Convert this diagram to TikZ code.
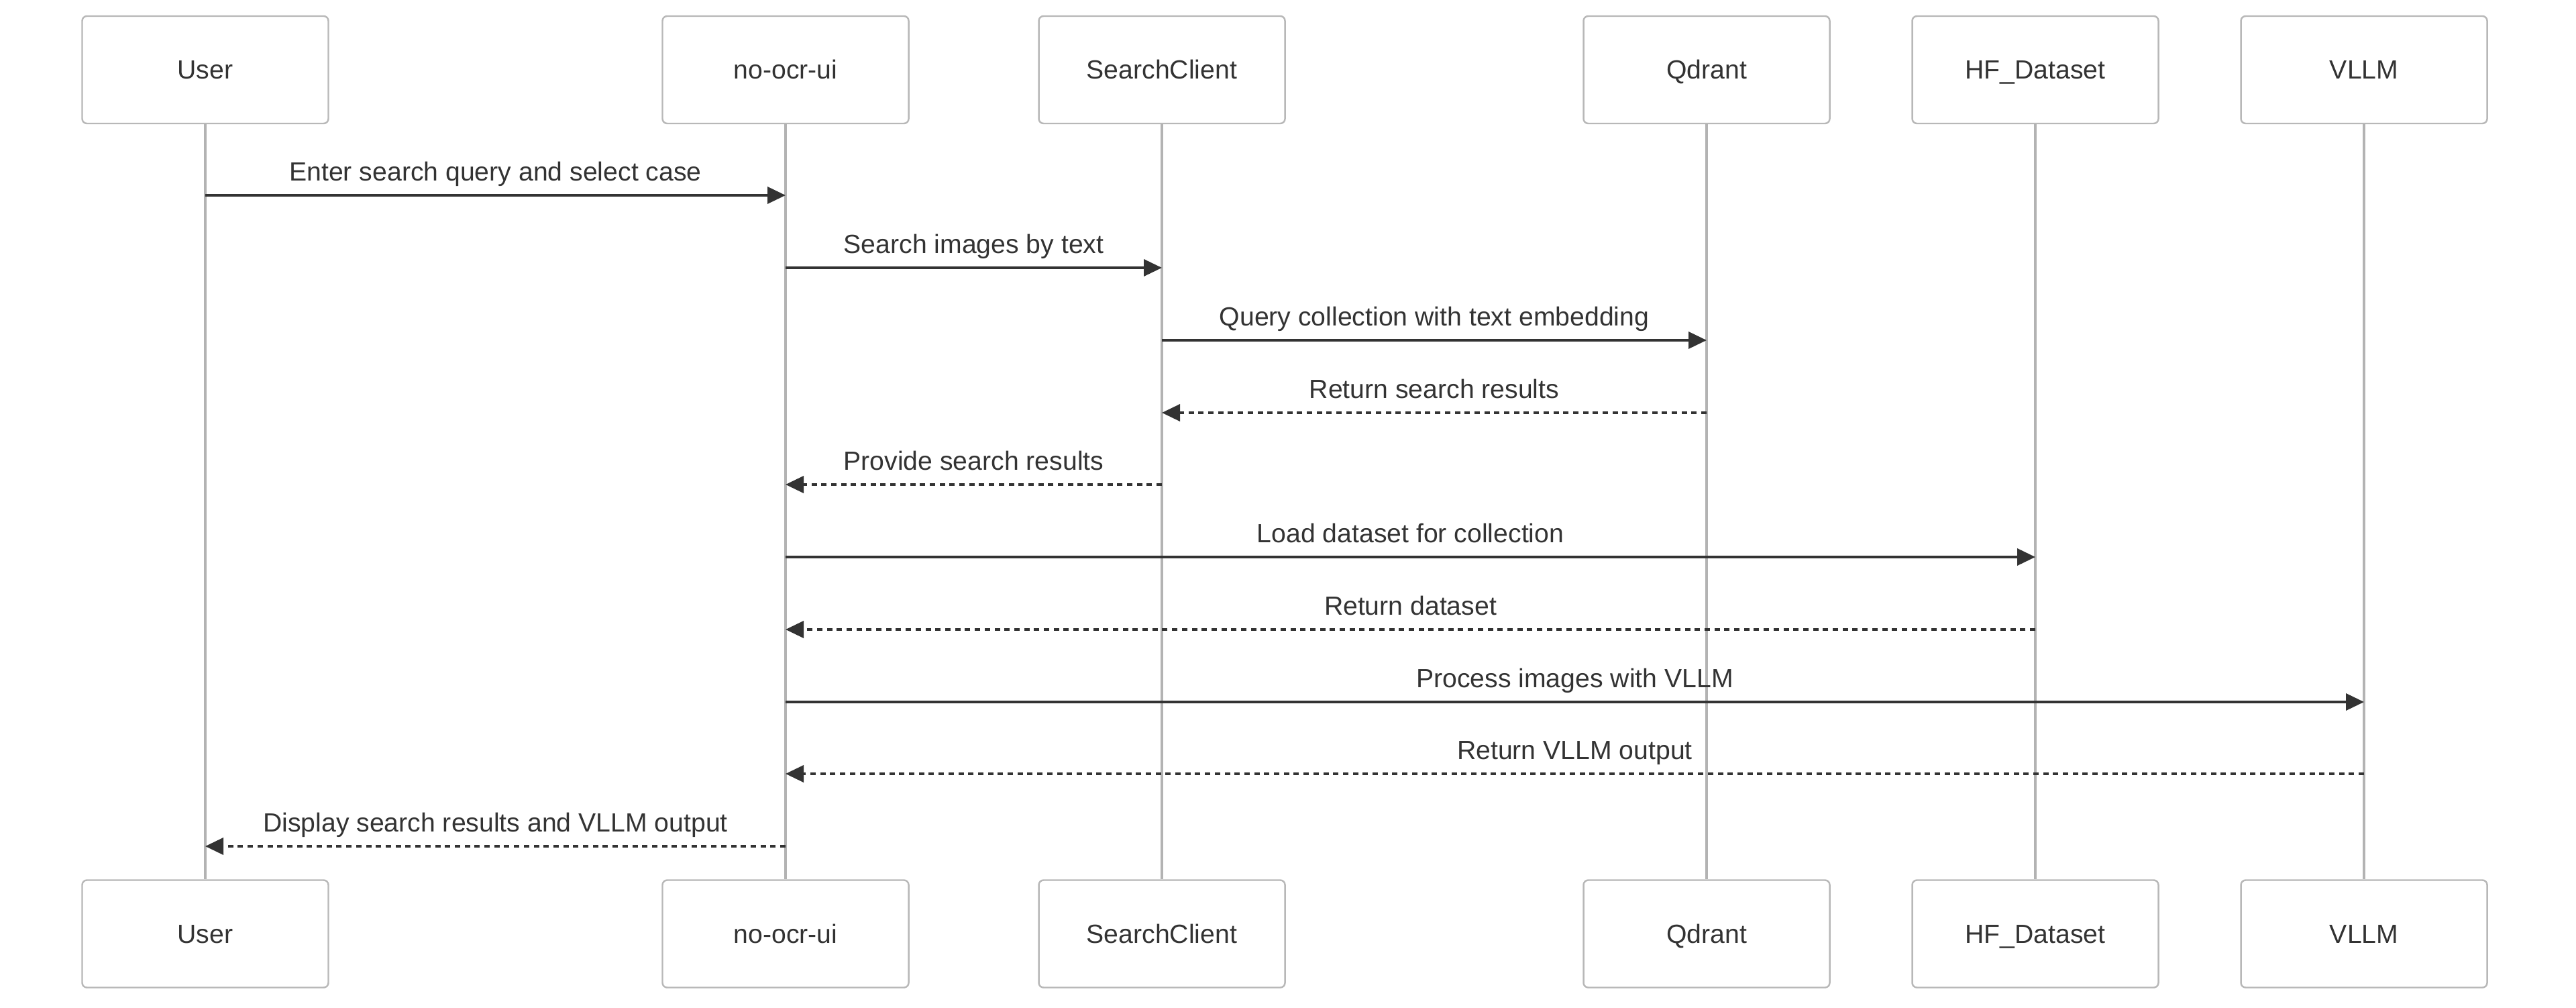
\documentclass[tikz,border=0pt]{standalone}
\usepackage{fontspec}
\setmainfont{Liberation Sans}
\usepackage{tikz}
\usepackage{xcolor}
\usetikzlibrary{arrows.meta}
\definecolor{inkgray}{HTML}{333333}
\definecolor{lifegray}{HTML}{B3B3B3}
\definecolor{boxgray}{HTML}{B8B8B8}

\begin{document}
\begin{tikzpicture}[actor/.style={draw=boxgray,line width=0.7pt,fill=white,rounded corners=2pt,minimum width=3.67cm,minimum height=1.6cm,inner sep=0pt,text height=0.36cm,text depth=0.08cm,text=inkgray,font=\fontsize{11.15pt}{13pt}\selectfont},
    lifeline/.style={draw=lifegray,line width=1.15pt},
    msg/.style={draw=inkgray,line width=1.05pt,-{Triangle[length=0.27cm,width=0.25cm]}},
    reply/.style={msg,dash pattern=on 0.08cm off 0.067cm},
    msgtext/.style={midway,anchor=base,yshift=0.215cm,inner sep=0pt,text=inkgray,font=\fontsize{11.15pt}{13pt}\selectfont}]
            \useasboundingbox (0,0) rectangle (38.4,-15.02);
            \node[actor] (user) at (3.06,-1.04) {User};
            \node[actor] (ui) at (11.71,-1.04) {no-ocr-ui};
            \node[actor] (client) at (17.32,-1.04) {SearchClient};
            \node[actor] (qdrant) at (25.44,-1.04) {Qdrant};
            \node[actor] (hfdata) at (30.34,-1.04) {HF\_Dataset};
            \node[actor] (vllm) at (35.24,-1.04) {VLLM};
            \node[actor] (userb) at (3.06,-13.915) {User};
            \node[actor] (uib) at (11.71,-13.915) {no-ocr-ui};
            \node[actor] (clientb) at (17.32,-13.915) {SearchClient};
            \node[actor] (qdrantb) at (25.44,-13.915) {Qdrant};
            \node[actor] (hfdatab) at (30.34,-13.915) {HF\_Dataset};
            \node[actor] (vllmb) at (35.24,-13.915) {VLLM};
            \draw[lifeline] (user) -- (userb);
            \draw[lifeline] (ui) -- (uib);
            \draw[lifeline] (client) -- (clientb);
            \draw[lifeline] (qdrant) -- (qdrantb);
            \draw[lifeline] (hfdata) -- (hfdatab);
            \draw[lifeline] (vllm) -- (vllmb);
            \coordinate (r1) at (0,-2.91);
            \coordinate (r2) at (0,-3.99);
            \coordinate (r3) at (0,-5.07);
            \coordinate (r4) at (0,-6.15);
            \coordinate (r5) at (0,-7.22);
            \coordinate (r6) at (0,-8.30);
            \coordinate (r7) at (0,-9.38);
            \coordinate (r8) at (0,-10.46);
            \coordinate (r9) at (0,-11.53);
            \coordinate (r10) at (0,-12.61);
            \draw[msg] (user |- r1) -- node[msgtext] {Enter search query and select case} (ui |- r1);
            \draw[msg] (ui |- r2) -- node[msgtext] {Search images by text} (client |- r2);
            \draw[msg] (client |- r3) -- node[msgtext] {Query collection with text embedding} (qdrant |- r3);
            \draw[reply] (qdrant |- r4) -- node[msgtext] {Return search results} (client |- r4);
            \draw[reply] (client |- r5) -- node[msgtext] {Provide search results} (ui |- r5);
            \draw[msg] (ui |- r6) -- node[msgtext] {Load dataset for collection} (hfdata |- r6);
            \draw[reply] (hfdata |- r7) -- node[msgtext] {Return dataset} (ui |- r7);
            \draw[msg] (ui |- r8) -- node[msgtext] {Process images with VLLM} (vllm |- r8);
            \draw[reply] (vllm |- r9) -- node[msgtext] {Return VLLM output} (ui |- r9);
            \draw[reply] (ui |- r10) -- node[msgtext] {Display search results and VLLM output} (user |- r10);
        \end{tikzpicture}
\end{document}
